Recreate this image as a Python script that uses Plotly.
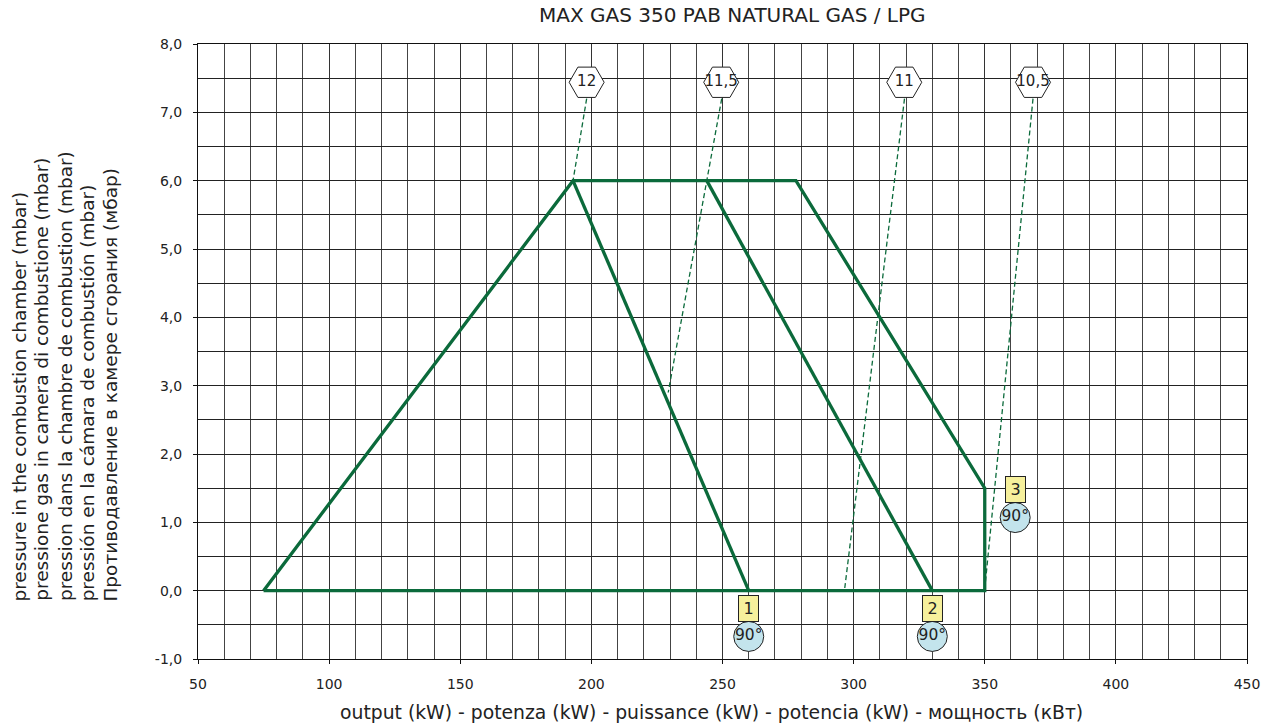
import plotly.graph_objects as go

# Working field envelope (output kW vs combustion chamber pressure mbar)
envelope_x = [75, 193, 278, 350, 350, 75]
envelope_y = [0, 6, 6, 1.5, 0, 0]

# Inner operating curves
curve1_x = [193, 260]
curve1_y = [6, 0]
curve2_x = [244, 330]
curve2_y = [6, 0]

# Dashed reference lines linked to the hexagon labels
dash_lines = {
    "12": ([198.2, 193.0], [7.2, 6.0]),
    "11,5": ([249.7, 229.3], [7.2, 2.9]),
    "11": ([319.4, 296.5], [7.2, 0.0]),
    "10,5": ([368.4, 350.2], [7.2, 0.1]),
}

# Hexagon labels
hex_x = [198.2, 249.5, 319.3, 368.4]
hex_y = [7.44, 7.44, 7.44, 7.44]
hex_text = ["12", "11,5", "11", "10,5"]

# Numbered boxes and 90° circles
box_x = [260, 330, 361.6]
box_y = [-0.26, -0.26, 1.48]
box_text = ["1", "2", "3"]
circ_x = [260, 330, 361.6]
circ_y = [-0.67, -0.67, 1.07]
circ_text = ["90°", "90°", "90°"]

# Axis ticks
x_tick_vals = [50, 100, 150, 200, 250, 300, 350, 400, 450]
x_tick_text = ["50", "100", "150", "200", "250", "300", "350", "400", "450"]
y_tick_vals = [-1, 0, 1, 2, 3, 4, 5, 6, 7, 8]
y_tick_text = ["-1,0", "0,0", "1,0", "2,0", "3,0", "4,0", "5,0", "6,0", "7,0", "8,0"]

title_text = "MAX GAS 350 PAB NATURAL GAS / LPG"
x_title = "output (kW) - potenza (kW) - puissance (kW) - potencia (kW) - мощность (кВт)"
y_title_lines = [
    "pressure in the combustion chamber (mbar)",
    "pressione gas in camera di combustione (mbar)",
    "pression dans la chambre de combustion (mbar)",
    "pressión en la cámara de combustión (mbar)",
    "Противодавление в камере сгорания (мбар)",
]

FONT = "DejaVu Sans"
GREEN = "#0b6a3b"
TXT = "#222222"

W, H = 1261, 727
L, R, T, B = 197.7, 14.3, 44.0, 68.3
PW, PH = W - L - R, H - T - B


def px_to_paper_x(px):
    return (px - L) / PW


def px_to_paper_y(py):
    return (H - B - py) / PH


fig = go.Figure()

fig.add_trace(go.Scatter(x=envelope_x, y=envelope_y, mode="lines",
                         line=dict(color=GREEN, width=3.3), hoverinfo="skip"))
fig.add_trace(go.Scatter(x=curve1_x, y=curve1_y, mode="lines",
                         line=dict(color=GREEN, width=3.3), hoverinfo="skip"))
fig.add_trace(go.Scatter(x=curve2_x, y=curve2_y, mode="lines",
                         line=dict(color=GREEN, width=3.3), hoverinfo="skip"))

for name, (dx, dy) in dash_lines.items():
    fig.add_trace(go.Scatter(x=dx, y=dy, mode="lines",
                             line=dict(color=GREEN, width=1.3, dash="5px,3px"),
                             hoverinfo="skip"))

fig.add_trace(go.Scatter(
    x=hex_x, y=hex_y, mode="markers+text", text=hex_text,
    textposition="middle center",
    textfont=dict(family=FONT, size=15, color=TXT),
    marker=dict(symbol="hexagon2", size=35, color="white",
                line=dict(color="#222", width=1)),
    cliponaxis=False, hoverinfo="skip"))

fig.add_trace(go.Scatter(
    x=circ_x, y=circ_y, mode="markers+text", text=circ_text,
    textposition="middle center",
    textfont=dict(family=FONT, size=15.5, color=TXT),
    marker=dict(symbol="circle", size=30, color="#c3e4ec",
                line=dict(color="#222", width=1)),
    cliponaxis=False, hoverinfo="skip"))

annotations = []
for bx, by, bt in zip(box_x, box_y, box_text):
    annotations.append(dict(
        x=bx, y=by, xref="x", yref="y", text=bt, showarrow=False,
        font=dict(family=FONT, size=16, color=TXT),
        bgcolor="#f6f09c", bordercolor="#222", borderwidth=1, borderpad=1,
        width=17, height=23, xanchor="center", yanchor="middle"))

annotations.append(dict(
    x=px_to_paper_x(732), y=px_to_paper_y(15), xref="paper", yref="paper",
    text=title_text, showarrow=False, xanchor="center", yanchor="middle",
    font=dict(family=FONT, size=20, color=TXT)))

annotations.append(dict(
    x=px_to_paper_x(711.5), y=px_to_paper_y(712), xref="paper", yref="paper",
    text=x_title, showarrow=False, xanchor="center", yanchor="middle",
    font=dict(family=FONT, size=18.8, color=TXT)))

line_centers = [19, 41.7, 64.5, 87.3, 110]
for xc, line in zip(line_centers, y_title_lines):
    annotations.append(dict(
        x=px_to_paper_x(xc), y=px_to_paper_y(603), xref="paper", yref="paper",
        text=line, showarrow=False, textangle=-90,
        xanchor="center", yanchor="bottom",
        font=dict(family=FONT, size=18.5, color=TXT)))

fig.update_layout(
    width=W, height=H, autosize=False,
    margin=dict(l=L, r=R, t=T, b=B, pad=0, autoexpand=False),
    paper_bgcolor="white", plot_bgcolor="white",
    showlegend=False,
    annotations=annotations,
    font=dict(family=FONT, color=TXT),
)

fig.update_xaxes(
    range=[50, 450], tickmode="array", tickvals=x_tick_vals, ticktext=x_tick_text,
    showgrid=True, gridcolor="#333", gridwidth=1,
    minor=dict(tick0=0, dtick=10, showgrid=True, gridcolor="#444", gridwidth=1),
    showline=True, linecolor="#111", linewidth=1, mirror=True,
    ticks="outside", ticklen=4, tickcolor="#111",
    ticklabelstandoff=8, automargin=False,
    tickfont=dict(family=FONT, size=14, color=TXT),
    zeroline=False, fixedrange=True)

fig.update_yaxes(
    range=[-1, 8], tickmode="array", tickvals=y_tick_vals, ticktext=y_tick_text,
    showgrid=True, gridcolor="#222", gridwidth=1,
    minor=dict(tick0=0, dtick=0.5, showgrid=True, gridcolor="#222", gridwidth=1),
    showline=True, linecolor="#111", linewidth=1, mirror=True,
    ticks="outside", ticklen=4, tickcolor="#111",
    ticklabelstandoff=8, automargin=False,
    tickfont=dict(family=FONT, size=14, color=TXT),
    zeroline=False, fixedrange=True)

fig.write_html("out.html")
